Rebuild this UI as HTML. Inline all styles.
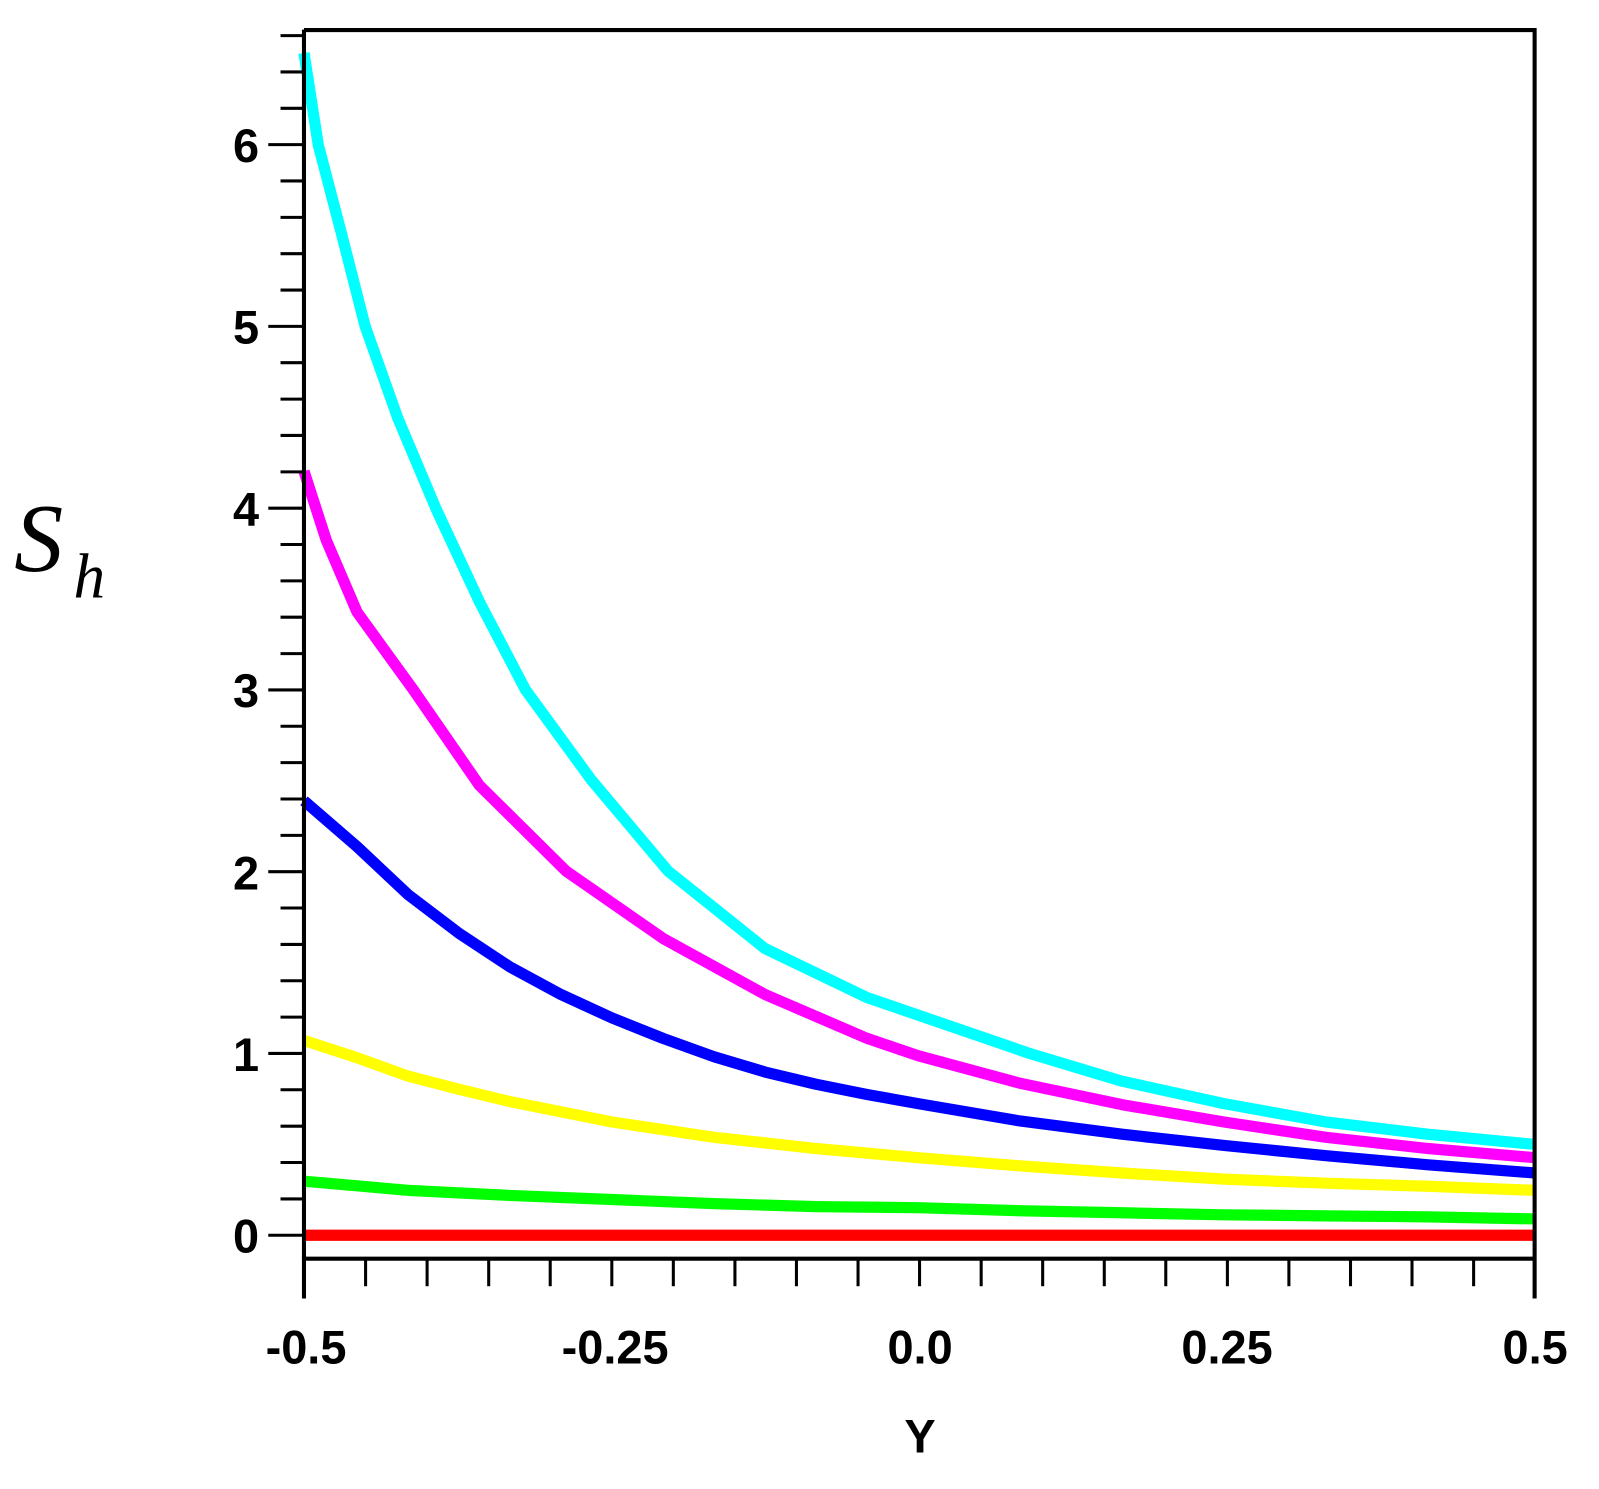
<!DOCTYPE html>
<html><head><style>html,body{margin:0;padding:0;background:#fff}svg{display:block}</style></head>
<body>
<svg width="1599" height="1489" viewBox="0 0 1567.6 1459.8" xmlns="http://www.w3.org/2000/svg">
<rect x="0" y="0" width="1567.6" height="1459.8" fill="#fff"/>
<g fill="none" stroke-width="11" stroke-linejoin="round">
<polyline stroke="#ff0000" points="298,1211 1505,1211"/>
<polyline stroke="#00ff00" points="298,1158 400,1167 500,1172 600,1176 700,1180 800,1183 900,1184 1000,1187 1100,1189 1200,1191 1300,1192 1400,1193 1505,1195"/>
<polyline stroke="#ffff00" points="298,1020 350,1037 400,1055 450,1068 500,1080 600,1100 700,1115 800,1126 900,1135 1000,1143 1100,1150 1200,1156 1300,1160 1400,1163 1505,1167"/>
<polyline stroke="#0000ff" points="298,785 350,830 400,877 450,915 500,948 550,975 600,998 650,1018 700,1036 750,1051 800,1063 850,1073 900,1082 1000,1099 1100,1112 1200,1123 1300,1133 1400,1142 1505,1150"/>
<polyline stroke="#ff00ff" points="298,462 320,530 350,600 405,676 470,770 555,854 650,920 750,975 850,1018 900,1035 1000,1062 1100,1083 1200,1100 1300,1115 1400,1126 1505,1135"/>
<polyline stroke="#00ffff" points="298,52 312,142 335,230 358,320 390,410 428,500 470,590 515,676 580,765 655,854 750,930 850,978 1010,1033 1100,1060 1200,1082 1300,1100 1400,1112 1505,1122"/>
</g>
<g stroke="#000" stroke-width="4" fill="none">
<polyline points="298,29.5 1504.5,29.5 1504.5,1273"/>
<line x1="298" y1="29" x2="298" y2="1273"/>
<line x1="296" y1="1234" x2="1506" y2="1234"/>
</g>
<g stroke="#000" stroke-width="3">
<line x1="263" y1="1211" x2="298" y2="1211"/><line x1="275" y1="1175.4" x2="298" y2="1175.4"/><line x1="275" y1="1139.7" x2="298" y2="1139.7"/><line x1="275" y1="1104.1" x2="298" y2="1104.1"/><line x1="275" y1="1068.4" x2="298" y2="1068.4"/>
<line x1="263" y1="1032.8" x2="298" y2="1032.8"/><line x1="275" y1="997.2" x2="298" y2="997.2"/><line x1="275" y1="961.5" x2="298" y2="961.5"/><line x1="275" y1="925.9" x2="298" y2="925.9"/><line x1="275" y1="890.2" x2="298" y2="890.2"/>
<line x1="263" y1="854.6" x2="298" y2="854.6"/><line x1="275" y1="819" x2="298" y2="819"/><line x1="275" y1="783.3" x2="298" y2="783.3"/><line x1="275" y1="747.7" x2="298" y2="747.7"/><line x1="275" y1="712" x2="298" y2="712"/>
<line x1="263" y1="676.4" x2="298" y2="676.4"/><line x1="275" y1="640.8" x2="298" y2="640.8"/><line x1="275" y1="605.1" x2="298" y2="605.1"/><line x1="275" y1="569.5" x2="298" y2="569.5"/><line x1="275" y1="533.8" x2="298" y2="533.8"/>
<line x1="263" y1="498.2" x2="298" y2="498.2"/><line x1="275" y1="462.6" x2="298" y2="462.6"/><line x1="275" y1="426.9" x2="298" y2="426.9"/><line x1="275" y1="391.3" x2="298" y2="391.3"/><line x1="275" y1="355.6" x2="298" y2="355.6"/>
<line x1="263" y1="320" x2="298" y2="320"/><line x1="275" y1="284.4" x2="298" y2="284.4"/><line x1="275" y1="248.7" x2="298" y2="248.7"/><line x1="275" y1="213.1" x2="298" y2="213.1"/><line x1="275" y1="177.4" x2="298" y2="177.4"/>
<line x1="263" y1="141.8" x2="298" y2="141.8"/><line x1="275" y1="106.2" x2="298" y2="106.2"/><line x1="275" y1="70.5" x2="298" y2="70.5"/><line x1="275" y1="34.9" x2="298" y2="34.9"/>
<line x1="358.4" y1="1234" x2="358.4" y2="1261"/><line x1="418.7" y1="1234" x2="418.7" y2="1261"/><line x1="479.1" y1="1234" x2="479.1" y2="1261"/><line x1="539.4" y1="1234" x2="539.4" y2="1261"/><line x1="599.8" y1="1234" x2="599.8" y2="1261"/>
<line x1="660.1" y1="1234" x2="660.1" y2="1261"/><line x1="720.5" y1="1234" x2="720.5" y2="1261"/><line x1="780.8" y1="1234" x2="780.8" y2="1261"/><line x1="841.2" y1="1234" x2="841.2" y2="1261"/><line x1="901.5" y1="1234" x2="901.5" y2="1261"/>
<line x1="961.9" y1="1234" x2="961.9" y2="1261"/><line x1="1022.2" y1="1234" x2="1022.2" y2="1261"/><line x1="1082.6" y1="1234" x2="1082.6" y2="1261"/><line x1="1142.9" y1="1234" x2="1142.9" y2="1261"/><line x1="1203.3" y1="1234" x2="1203.3" y2="1261"/>
<line x1="1263.6" y1="1234" x2="1263.6" y2="1261"/><line x1="1324" y1="1234" x2="1324" y2="1261"/><line x1="1384.3" y1="1234" x2="1384.3" y2="1261"/><line x1="1444.7" y1="1234" x2="1444.7" y2="1261"/>
</g>
<g font-family="'Liberation Sans',sans-serif" font-weight="bold" font-size="46" fill="#000" text-anchor="end">
<text x="254" y="1228">0</text>
<text x="254" y="1050">1</text>
<text x="254" y="872">2</text>
<text x="254" y="693">3</text>
<text x="254" y="515">4</text>
<text x="254" y="337">5</text>
<text x="254" y="159">6</text>
</g>
<g font-family="'Liberation Sans',sans-serif" font-weight="bold" font-size="46" fill="#000" text-anchor="middle">
<text x="300" y="1337">-0.5</text>
<text x="603" y="1337">-0.25</text>
<text x="902" y="1337">0.0</text>
<text x="1203" y="1337">0.25</text>
<text x="1505" y="1337">0.5</text>
<text x="902" y="1424">Y</text>
</g>
<text x="14" y="560" font-family="'Liberation Serif',serif" font-style="italic" font-size="96" fill="#000">S</text>
<text x="72" y="586" font-family="'Liberation Serif',serif" font-style="italic" font-size="62" fill="#000">h</text>
</svg>
</body></html>
